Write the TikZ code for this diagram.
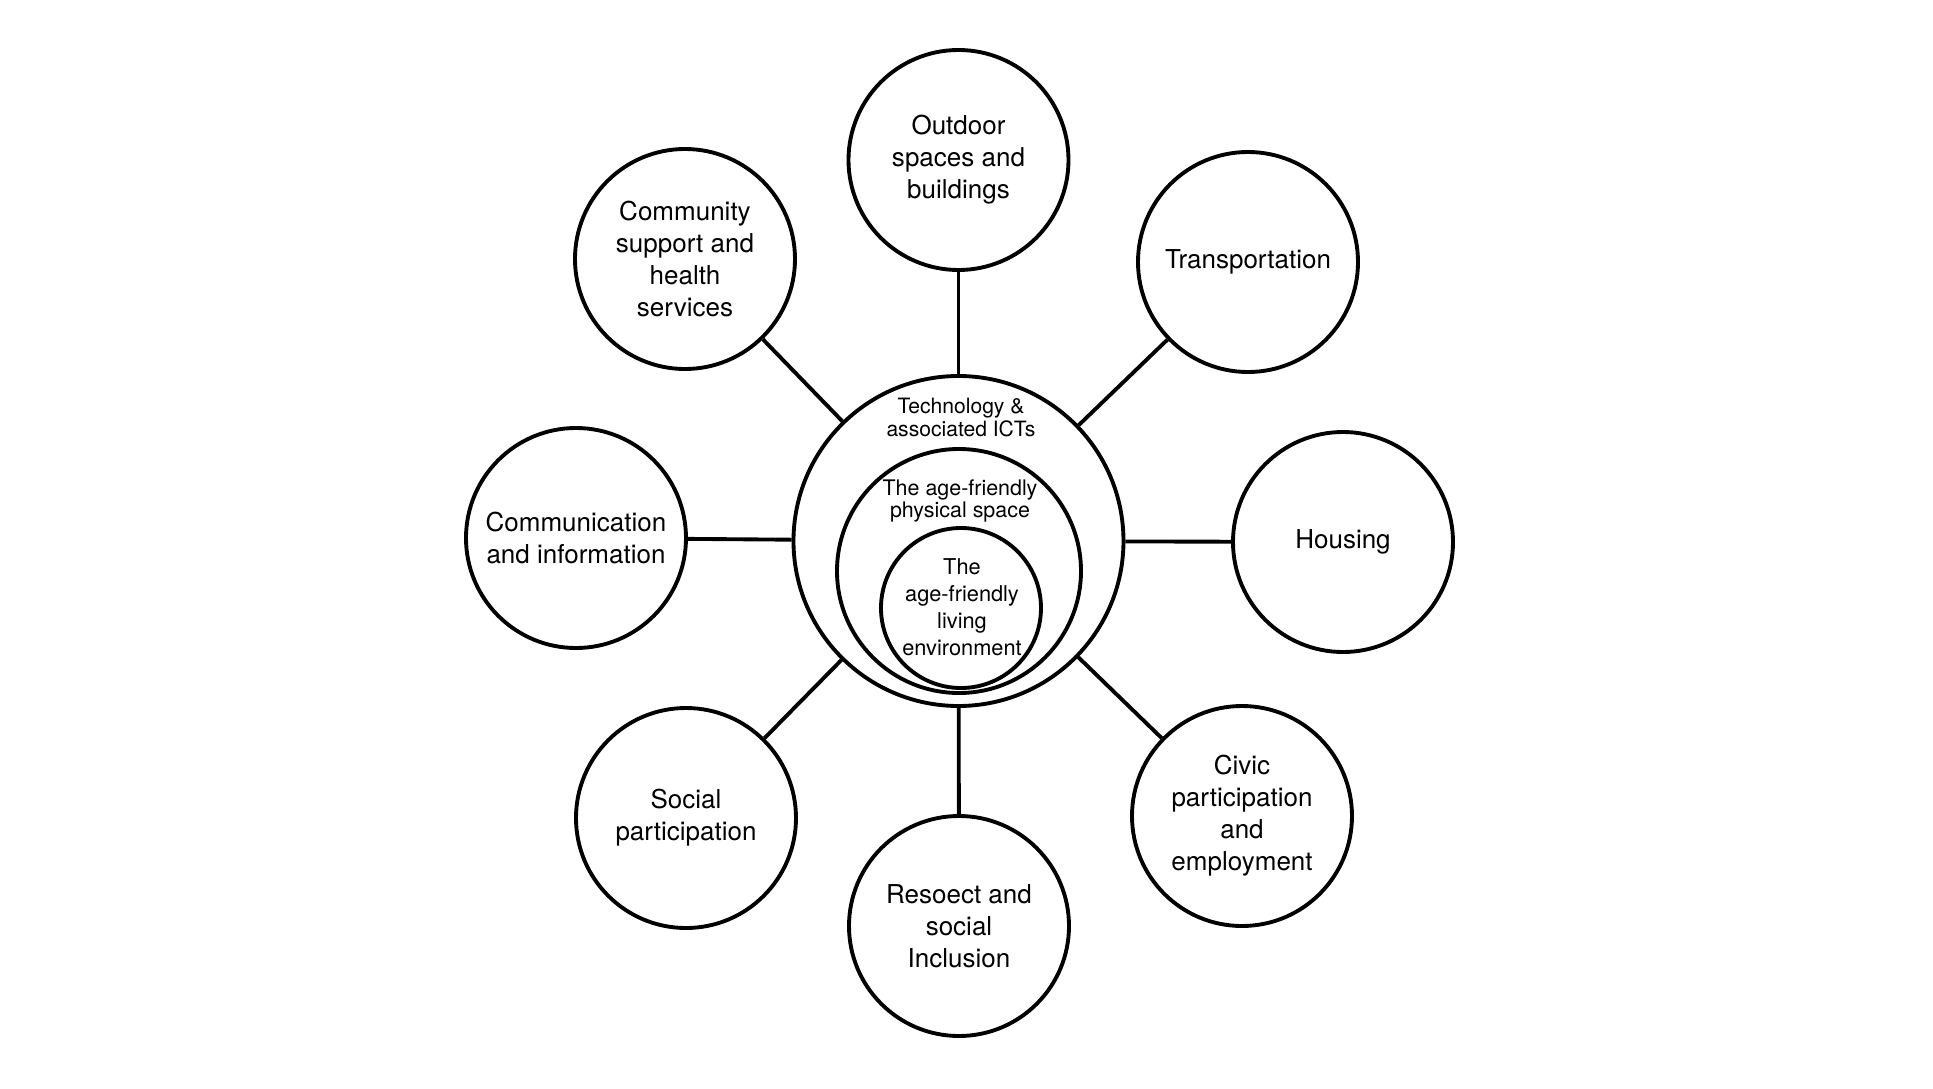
\documentclass[tikz,border=0pt]{standalone}
\usepackage{fontspec}
\setmainfont{TeX Gyre Heros}

\begin{document}
\begin{tikzpicture}
            \useasboundingbox (-19.17,-10.94) rectangle (19.49,10.82);
            \begin{scope}[every node/.style={circle,draw,line width=2.2pt,minimum size=4.4cm,inner sep=0pt,align=center,font=\fontsize{14.8}{18.2}\selectfont}]
                \node (OS) at (0, 7.62) {Outdoor\\spaces and\\buildings};
                \node (TR) at (5.79, 5.58) {Transportation};
                \node (HO) at (7.69, -0.02) {Housing};
                \node (CP) at (5.67, -5.5) {Civic\\participation\\and\\employment};
                \node (RS) at (0.01, -7.7) {Resoect and\\social\\Inclusion};
                \node (SP) at (-5.45, -5.54) {Social\\participation};
                \node (CI) at (-7.65, 0.06) {Communication\\and information};
                \node (CS) at (-5.47, 5.64) {Community\\support and\\health\\services};
            \end{scope}

            \begin{scope}[every node/.style={circle,draw,line width=2.2pt,inner sep=0pt}]
                \node (ICT) [minimum size=6.6cm] at (0, 0) {};
                \node (PS) [minimum size=4.88cm] at (0.01, -0.6) {};
                \node (LE) [minimum size=3.2cm] at (0.05, -1.34) {};
            \end{scope}

            \begin{scope}[every node/.style={align=center,inner sep=0pt}]
                \node (ICTtext) [font=\fontsize{12}{13.1}\selectfont] at (0.05, 2.47) {Technology \&\\associated ICTs};
                \node (PStext) [font=\fontsize{12.2}{12}\selectfont] at (0.03, 0.8) {The age-friendly\\physical space};
                \node (LEtext) [font=\fontsize{12.4}{15.4}\selectfont] at (0.07, -1.33) {The\\age-friendly\\living\\environment};
            \end{scope}

            \begin{scope}[every edge/.style={draw=black,line width=2.2pt}]
                \path (ICT) edge (OS);
                \path (ICT) edge (TR);
                \path (ICT) edge (HO);
                \path (ICT) edge (CP);
                \path (ICT) edge (RS);
                \path (ICT) edge (SP);
                \path (ICT) edge (CI);
                \path (ICT) edge (CS);
            \end{scope}
        \end{tikzpicture}
\end{document}
